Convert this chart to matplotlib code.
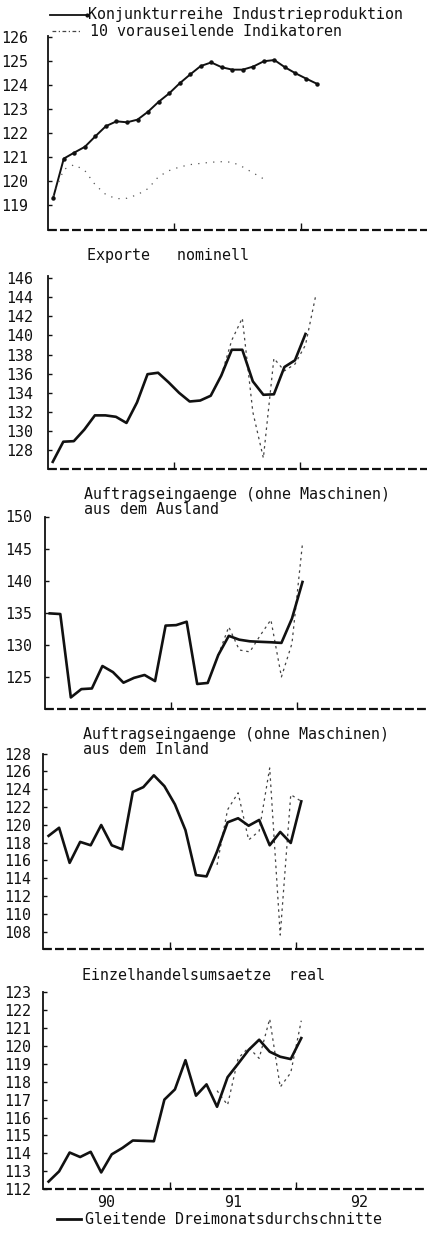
import numpy as np
import matplotlib.pyplot as plt
from matplotlib.lines import Line2D

plt.rcParams['font.family'] = ['DejaVu Sans Mono']

# months since Jan 1990 (plotted mid-month)
months26 = np.arange(26) + 0.5
months25 = np.arange(25) + 0.5

# panel 1: Industrieproduktion / vorauseilende Indikatoren
ind_prod = [119.33, 120.95, 121.20, 121.44, 121.88, 122.30, 122.50, 122.46, 122.57,
            122.90, 123.31, 123.66, 124.08, 124.45, 124.80, 124.95, 124.75, 124.65,
            124.65, 124.78, 125.00, 125.05, 124.75, 124.50, 124.28, 124.07]
lead_ind = [119.40, 120.50, 120.70, 120.45, 119.85, 119.45, 119.28, 119.30, 119.45,
            119.70, 120.20, 120.45, 120.60, 120.70, 120.75, 120.80, 120.82, 120.80,
            120.60, 120.35, 120.10]

# panel 2: Exporte nominell
exp_ma = [126.8, 128.9, 128.96, 130.17, 131.65, 131.65, 131.5, 130.86, 133.0, 135.95,
          136.1, 135.1, 134.0, 133.1, 133.2, 133.7, 135.8, 138.5, 138.5, 135.2, 133.8,
          133.85, 136.7, 137.4, 140.15]
exp_raw = [135.8, 139.5, 141.8, 132.0, 127.2, 137.6, 136.3, 137.0, 139.0, 144.3]

# panel 3: Auftragseingaenge Ausland
aus_ma = [134.9, 134.8, 121.8, 123.1, 123.2, 126.7, 125.75, 124.1, 124.85, 125.3,
          124.35, 133.0, 133.07, 133.6, 123.9, 124.06, 128.4, 131.4, 130.8, 130.55,
          130.47, 130.4, 130.3, 134.1, 139.8]
aus_raw = [128.4, 132.8, 129.2, 128.9, 131.5, 133.9, 125.0, 130.2, 145.8]

# panel 4: Auftragseingaenge Inland
inl_ma = [118.76, 119.67, 115.72, 118.08, 117.70, 119.98, 117.70, 117.24, 123.70,
          124.24, 125.57, 124.35, 122.3, 119.4, 114.35, 114.2, 117.0, 120.28, 120.74,
          119.9, 120.55, 117.7, 119.2, 117.96, 122.64]
inl_raw = [115.5, 121.7, 123.6, 118.3, 119.3, 126.4, 107.6, 123.4, 122.64]

# panel 5: Einzelhandelsumsaetze real
ezh_ma = [112.43, 113.0, 114.05, 113.8, 114.09, 112.94, 113.95, 114.3, 114.72, 114.7,
          114.68, 117.0, 117.57, 119.2, 117.22, 117.85, 116.6, 118.25, 119.0, 119.77,
          120.34, 119.67, 119.39, 119.26, 120.43]
ezh_raw = [117.5, 116.7, 119.3, 119.9, 119.3, 121.5, 117.7, 118.5, 121.4]

W, H = 430, 1235
PX_MONTH = 10.53
INK = '#111111'
FS = 10.8

fig = plt.figure(figsize=(W / 100, H / 100), dpi=100)


def fx(x):
    return x / W


def fy(y):
    return 1 - y / H


def panel(left, top, bottom, ylim, yticks, pad):
    width = 427 - left
    ax = fig.add_axes([fx(left), fy(bottom), width / W, (bottom - top) / H])
    ax.set_xlim(0, width / PX_MONTH)
    ax.set_ylim(*ylim)
    for s in ['top', 'right', 'bottom']:
        ax.spines[s].set_visible(False)
    ax.spines['left'].set_linewidth(1.3)
    ax.spines['left'].set_color(INK)
    # dashed base line
    ax.plot([0, 1], [0, 0], transform=ax.transAxes, color=INK, lw=1.6,
            ls=(0, (4, 1.4)), clip_on=False)
    ax.set_yticks(yticks)
    ax.tick_params(axis='y', direction='in', length=3, width=1, pad=pad,
                   labelsize=FS, colors=INK)
    ax.set_xticks([12, 24])
    ax.tick_params(axis='x', direction='in', length=5, width=1, labelbottom=False,
                   colors=INK)
    return ax


dotted = dict(color='#444444', lw=0.9, ls=(0, (2, 3)))
solid = dict(color=INK, lw=1.9)

# panel 1
ax1 = panel(48, 36, 229.5, (118, 126.05), range(119, 127), 14)
ax1.plot(months26, ind_prod, color=INK, lw=1.4, marker='o', ms=2.2)
ax1.plot(months25[:len(lead_ind)], lead_ind, color='#555555', lw=0.9, ls=(0, (1, 5)))

# panel 2
ax2 = panel(47.5, 276, 469.5, (126, 146.2), range(128, 147, 2), 10)
ax2.plot(months26[16:16 + len(exp_raw)], exp_raw, **dotted)
ax2.plot(months25, exp_ma, **solid)

# panel 3
ax3 = panel(44.5, 516.5, 709, (120, 150), range(125, 151, 5), 9)
ax3.plot(months25[16:], aus_raw, **dotted)
ax3.plot(months25, aus_ma, **solid)

# panel 4
ax4 = panel(43.3, 753.7, 949.3, (106, 128), range(108, 129, 2), 9)
ax4.plot(months25[16:], inl_raw, **dotted)
ax4.plot(months25, inl_ma, **solid)

# panel 5
ax5 = panel(43.3, 992, 1189.3, (112, 123), range(112, 124), 9)
ax5.plot(months25[16:], ezh_raw, **dotted)
ax5.plot(months25, ezh_ma, **solid)
ax5.set_xticks([6, 18, 30], minor=True)
ax5.set_xticklabels(['90', '91', '92'], minor=True)
ax5.tick_params(axis='x', which='minor', length=0, pad=4, labelsize=FS,
                labelbottom=True, colors=INK)

# titles and legends
txt = dict(fontsize=FS, color=INK, va='center', ha='left')
fig.add_artist(Line2D([fx(50), fx(87)], [fy(15), fy(15)], color=INK, lw=1.3,
                      marker='o', ms=2, markevery=[1]))
fig.text(fx(88), fy(15), 'Konjunkturreihe Industrieproduktion', **txt)
fig.add_artist(Line2D([fx(52), fx(82)], [fy(31), fy(31)], color='#444444', lw=0.9,
                      ls=(0, (3, 2, 1, 2))))
fig.text(fx(90), fy(31), '10 vorauseilende Indikatoren', **txt)

fig.text(fx(87), fy(255), 'Exporte   nominell', **txt)
fig.text(fx(84), fy(495), 'Auftragseingaenge (ohne Maschinen)', **txt)
fig.text(fx(84), fy(509), 'aus dem Ausland', **txt)
fig.text(fx(83), fy(735), 'Auftragseingaenge (ohne Maschinen)', **txt)
fig.text(fx(83), fy(749), 'aus dem Inland', **txt)
fig.text(fx(82), fy(975), 'Einzelhandelsumsaetze  real', **txt)

fig.add_artist(Line2D([fx(57), fx(81)], [fy(1219), fy(1219)], color=INK, lw=2))
fig.text(fx(85), fy(1219), 'Gleitende Dreimonatsdurchschnitte', **txt)

fig.savefig('out.png', dpi=100, facecolor='white')
